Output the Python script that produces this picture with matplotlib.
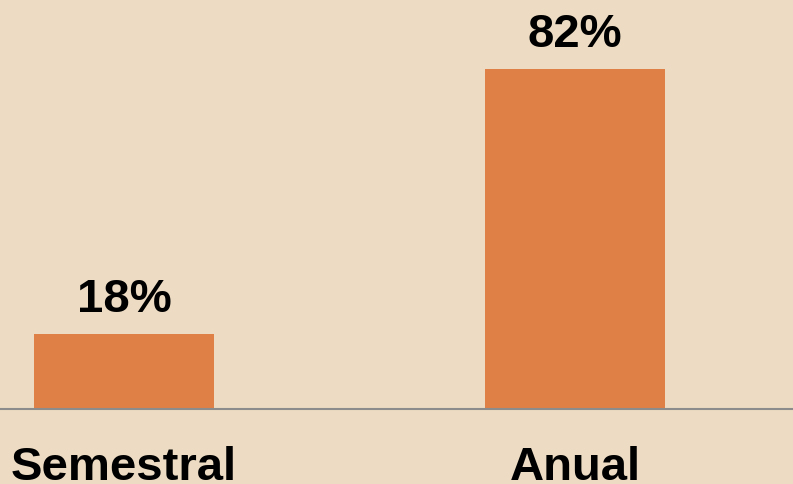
import matplotlib
matplotlib.use("Agg")
import matplotlib.pyplot as plt

categories = ["Semestral", "Anual"]
values = [18, 82]
labels = ["18%", "82%"]

bg = "#EDDCC3"
bar_color = "#DF8046"

fig = plt.figure(figsize=(7.93, 4.84), dpi=100)
fig.patch.set_facecolor(bg)
ax = fig.add_axes([0, 75 / 484, 1, 409 / 484])
ax.set_facecolor(bg)

x = list(range(len(categories)))
ax.bar(x, values, width=0.4, color=bar_color, zorder=2)

font = dict(family="Liberation Sans", weight="bold", size=34, color="black")
for xi, v, lab in zip(x, values, labels):
    ax.annotate(lab, (xi, v), xytext=(0, 16), textcoords="offset points",
                ha="center", va="baseline", **font)

ax.set_xlim(-0.275, 1.483)
ax.set_ylim(0, 98.6)
ax.set_xticks(x)
ax.set_xticklabels(categories, fontdict=font)
ax.tick_params(axis="x", length=0, pad=27)
ax.set_yticks([])
for s in ["top", "left", "right"]:
    ax.spines[s].set_visible(False)
ax.spines["bottom"].set_color("#8C8C8C")
ax.spines["bottom"].set_linewidth(1.5)
ax.spines["bottom"].set_zorder(3)

fig.savefig("out.png", dpi=100, facecolor=bg)
